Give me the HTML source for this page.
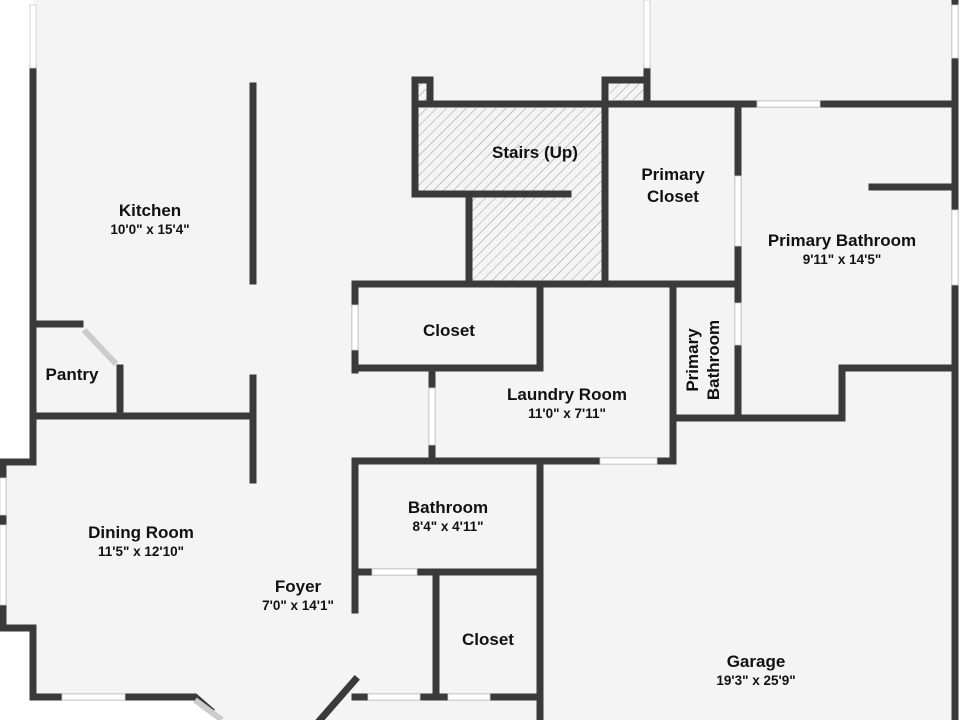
<!DOCTYPE html>
<html><head><style>
body{margin:0;background:#fff}
svg{display:block}
text{font-family:"Liberation Sans",sans-serif;fill:#111;text-anchor:middle}
.t{font-size:17px;font-weight:bold}
.s{font-size:13.5px;font-weight:bold}
</style></head><body>
<svg width="960" height="720" viewBox="0 0 960 720">
<defs>
<pattern id="h" width="7" height="7" patternUnits="userSpaceOnUse" patternTransform="rotate(45)">
<rect width="7" height="7" fill="#f4f4f4"/><line x1="0" y1="0" x2="0" y2="7" stroke="#999" stroke-width="1"/>
</pattern>
</defs>
<polygon points="33,0 955,0 955,720 225,720 190,697 33,697 33,628 3,628 3,465 33,465" fill="#f4f4f4"/>
<rect x="415" y="108" width="190" height="86" fill="url(#h)"/>
<rect x="470" y="194" width="135" height="88" fill="url(#h)"/>
<rect x="610" y="82" width="34" height="18" fill="url(#h)"/>
<rect x="418" y="82" width="10" height="20" fill="url(#h)"/>
<g stroke="#3a3a3a" stroke-width="7" fill="none" stroke-linecap="square">
<path d="M33,68 V462 H3 V628 H33 V697 H195 L210,710"/>
<path d="M33,324 H80 M120,368 V415 M33,416 H253 M253,86 V281 M253,378 V480"/>
<path d="M415,104 H955 M415,80 H430 V104 M415,80 V194 H568 M469,194 V282 M605,80 V284 M605,80 H647 V104 M647,68 V104"/>
<path d="M355,284 H738 M355,284 V370 M355,368 H540 M540,284 V368 M432,375 V458 M673,284 V461 M355,461 H673"/>
<path d="M738,104 V418 M673,418 H842 V368 H955 M872,187 H955 M955,0 V720"/>
<path d="M355,461 V610 M540,461 V720 M355,572 H540 M436,572 V697 M355,697 H540 M355,680 L320,720"/>
</g>
<g fill="#fff" stroke="#ccc" stroke-width="0.8">
<rect x="30" y="5" width="6" height="63"/>
<rect x="0" y="478" width="6" height="37"/>
<rect x="0" y="525" width="6" height="80"/>
<rect x="62" y="694" width="63" height="6"/>
<rect x="644" y="0" width="6" height="68"/>
<rect x="757" y="101" width="63" height="6"/>
<rect x="735" y="176" width="6" height="70"/>
<rect x="735" y="303" width="6" height="42"/>
<rect x="352" y="305" width="6" height="45"/>
<rect x="429" y="388" width="6" height="57"/>
<rect x="600" y="458" width="57" height="6"/>
<rect x="372" y="569" width="45" height="6"/>
<rect x="368" y="694" width="52" height="6"/>
<rect x="448" y="694" width="42" height="6"/>
<rect x="952" y="5" width="6" height="53"/>
<rect x="952" y="210" width="6" height="75"/>
</g>
<g stroke="#ccc" stroke-width="6"><line x1="84" y1="330" x2="116" y2="364"/><line x1="195" y1="700" x2="222" y2="720"/></g>
<text class="t" x="150" y="216">Kitchen</text><text class="s" x="150" y="234">10'0" x 15'4"</text>
<text class="t" x="72" y="380">Pantry</text>
<text class="t" x="535" y="158">Stairs (Up)</text>
<text class="t" x="673" y="180">Primary</text><text class="t" x="673" y="202">Closet</text>
<text class="t" x="842" y="246">Primary Bathroom</text><text class="s" x="842" y="264">9'11" x 14'5"</text>
<text class="t" x="449" y="336">Closet</text>
<text class="t" x="567" y="400">Laundry Room</text><text class="s" x="567" y="418">11'0" x 7'11"</text>
<g transform="translate(705,360) rotate(-90)"><text class="t" x="0" y="-7">Primary</text><text class="t" x="0" y="14">Bathroom</text></g>
<text class="t" x="141" y="538">Dining Room</text><text class="s" x="141" y="556">11'5" x 12'10"</text>
<text class="t" x="448" y="513">Bathroom</text><text class="s" x="448" y="531">8'4" x 4'11"</text>
<text class="t" x="298" y="592">Foyer</text><text class="s" x="298" y="610">7'0" x 14'1"</text>
<text class="t" x="488" y="645">Closet</text>
<text class="t" x="756" y="667">Garage</text><text class="s" x="756" y="685">19'3" x 25'9"</text>
</svg>
</body></html>
